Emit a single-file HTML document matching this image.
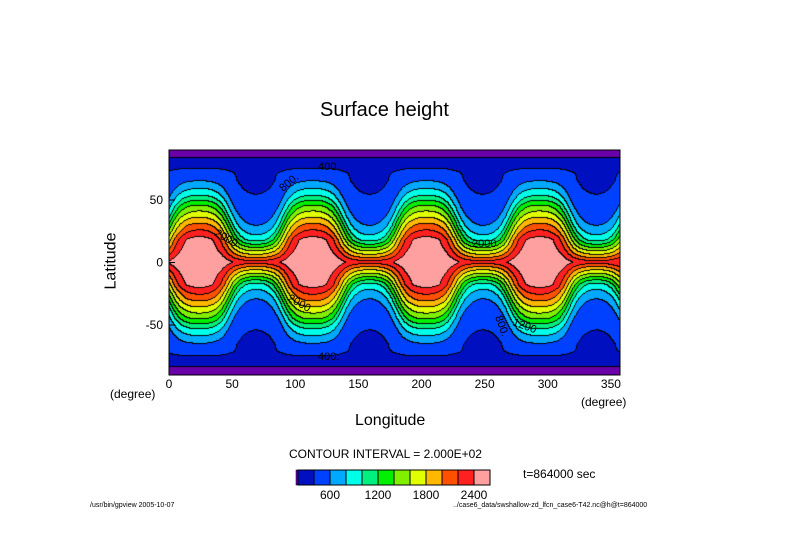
<!DOCTYPE html>
<html><head><meta charset="utf-8"><style>
body{margin:0;background:#fff;width:789px;height:558px;position:relative;overflow:hidden;font-family:"Liberation Sans",sans-serif;color:#000}
.t{position:absolute;white-space:nowrap}
</style></head><body>
<div class="t" style="left:320px;top:99px;font-size:20px;">Surface height</div>
<canvas id="cv" width="451" height="225" style="position:absolute;left:169px;top:150px;"></canvas>
<svg id="ax" width="789" height="558" style="position:absolute;left:0;top:0"></svg>
<div class="t" style="left:83px;top:252px;font-size:16px;transform:rotate(-90deg);">Latitude</div>
<div class="t" style="left:355px;top:412px;font-size:16px;">Longitude</div>
<div class="t" style="left:581px;top:395px;font-size:12px;">(degree)</div>
<div class="t" style="left:110px;top:387px;font-size:12px;">(degree)</div>
<div class="t" style="left:289px;top:447px;font-size:12px;">CONTOUR INTERVAL = 2.000E+02</div>
<div class="t" style="left:523px;top:467px;font-size:12px;">t=864000 sec</div>
<div class="t" style="left:90px;top:502px;font-size:7px;">/usr/bin/gpview  2005-10-07</div>
<div class="t" style="left:453px;top:502px;font-size:7px;">../case6_data/swshallow-zd_lfcn_case6-T42.nc@h@t=864000</div>
<script>
const levels=[200,400,600,800,1000,1200,1400,1600,1800,2000,2200,2400];
const colors=["#6a00a8","#0010c0","#0040ff","#00a8ff","#00ffe8","#00f080","#00f000","#80f000","#e0ff00","#ffb800","#ff5000","#ff2020","#ffa0a0"];
const profPhi=[-20,1,5.5,10,15,20,25,30,35,42,51,73,84,100];
const profH=[2800,2400,2200,2000,1800,1600,1400,1200,1000,800,600,400,200,50];
const ampLat=[0,10,18,30,45,60,66,72,80,90];
const ampVal=[1,10,18,21,21,17,14,4,0,0];
const waveNumber=4, ridgeLon=24, eqBump=100, eqWidth=20;
const cbLabels=[600,1200,1800,2400];
const xTicks=[0,50,100,150,200,250,300,350];
const yTicks=[-50,0,50];
const X0=169,X1=620,Y0=150,Y1=375,LONMAX=357.2;
const xs=l=>X0+(l/LONMAX)*(X1-X0);
const ys=p=>Y0+(90-p)/180*(Y1-Y0);
function interp(xa,ya,x){
  if(x<=xa[0])return ya[0];
  for(let i=1;i<xa.length;i++){if(x<=xa[i]){const t=(x-xa[i-1])/(xa[i]-xa[i-1]);return ya[i-1]+t*(ya[i]-ya[i-1]);}}
  return ya[ya.length-1];
}
const K=1.2,OFF=0.2;
const TM=Math.tanh(K*(1+OFF)),Tm=Math.tanh(K*(-1+OFF));
function field(lat,lon){
  const al=Math.abs(lat);
  const s=interp(ampLat,ampVal,al);
  const th=waveNumber*(lon-ridgeLon)*Math.PI/180;
  const w=(Math.tanh(K*(Math.cos(th)+OFF))-Tm)/(TM-Tm)*2-1;
  return interp(profPhi,profH,al-s*w)+eqBump*w*Math.exp(-(lat/eqWidth)*(lat/eqWidth));
}
function lev(v){let k=0;while(k<levels.length&&v>=levels[k])k++;return k;}
const cv=document.getElementById('cv'),ctx=cv.getContext('2d');
const W=cv.width,Hh=cv.height,img=ctx.createImageData(W,Hh);
const idx=new Int16Array(W*Hh);
for(let j=0;j<Hh;j++)for(let i=0;i<W;i++){
  const lon=i/(W-1)*LONMAX,lat=90-j/(Hh-1)*180;idx[j*W+i]=lev(field(lat,lon));}
function hex(c){return[parseInt(c.substr(1,2),16),parseInt(c.substr(3,2),16),parseInt(c.substr(5,2),16)];}
const rgb=colors.map(hex);
for(let j=0;j<Hh;j++)for(let i=0;i<W;i++){
  const k=idx[j*W+i];let c=rgb[k];
  if((i+1<W&&idx[j*W+i+1]!==k)||(j+1<Hh&&idx[(j+1)*W+i]!==k))c=[0,0,0];
  const p=(j*W+i)*4;img.data[p]=c[0];img.data[p+1]=c[1];img.data[p+2]=c[2];img.data[p+3]=255;}
ctx.putImageData(img,0,0);
const NS='http://www.w3.org/2000/svg',ax=document.getElementById('ax');
function mk(t,a,txt){const e=document.createElementNS(NS,t);for(const k in a)e.setAttribute(k,a[k]);if(txt!=null)e.textContent=txt;ax.appendChild(e);return e;}
let e=mk('rect',{x:X0,y:Y0,width:X1-X0,height:Y1-Y0,fill:'none',stroke:'#000','stroke-width':1});


xTicks.forEach(v=>{
  const t=mk('text',{x:xs(v),y:388,'font-size':12,'text-anchor':'middle','font-family':'Liberation Sans'},String(v));
  
  
});
yTicks.forEach(v=>{
  const t=mk('text',{x:163,y:ys(v)+4,'font-size':12,'text-anchor':'end','font-family':'Liberation Sans'},String(v));
  
  
  const l=mk('line',{x1:X0,x2:X0+6,y1:ys(v),y2:ys(v),stroke:'#000'});
  
  
});
const cbX=298,cbW=16,cbY=470,cbH=15;
const p0=mk('rect',{x:cbX-2,y:cbY,width:2,height:cbH,fill:colors[0],stroke:'#000','stroke-width':0.5});


for(let k=1;k<colors.length;k++){
  const r=mk('rect',{x:cbX+(k-1)*cbW,y:cbY,width:cbW,height:cbH,fill:colors[k],stroke:'#000','stroke-width':1});
  
  
}
cbLabels.forEach(v=>{
  const k=levels.indexOf(v);
  const t=mk('text',{x:cbX+k*cbW,y:cbY+cbH+14,'font-size':12,'text-anchor':'middle','font-family':'Liberation Sans'},String(v));
  
  
});
[[318,170,'400.',0],[318,360,'400.',0],[283,192,'800.',-40],[214,235,'2000',30],[287,300,'2000',30],[472,247,'2000',0],[495,317,'800.',70],[512,325,'1200',20]].forEach(d=>{
  const t=mk('text',{x:d[0],y:d[1],'font-size':11,'font-family':'Liberation Sans',transform:`rotate(${d[3]} ${d[0]} ${d[1]})`},d[2]);
  
  
});
</script>
</body></html>
